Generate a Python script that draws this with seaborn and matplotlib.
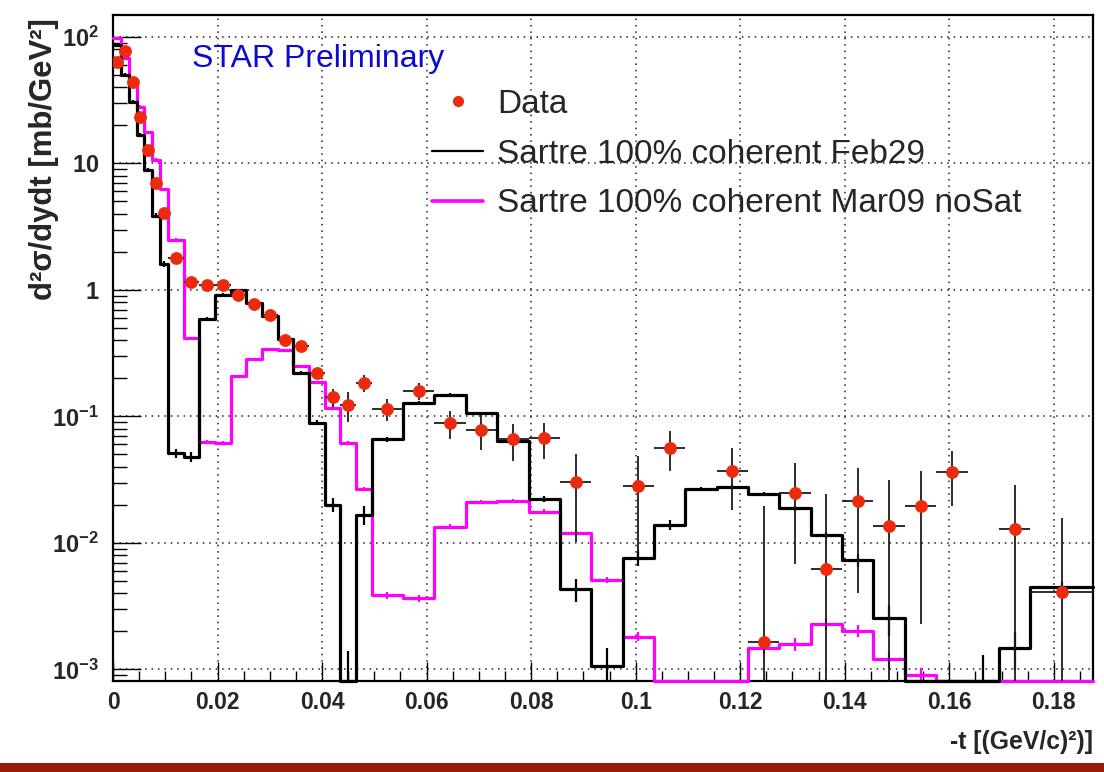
import numpy as np
import pandas as pd
import matplotlib
matplotlib.use("Agg")
import matplotlib.pyplot as plt
import seaborn as sns
from matplotlib.lines import Line2D
from matplotlib.patches import Rectangle
from matplotlib.ticker import MultipleLocator, LogLocator, FuncFormatter, NullFormatter

# ---- binning in -t [(GeV/c)^2] ----
t_edges = [0.0, 0.0015, 0.003, 0.0045, 0.006, 0.0075, 0.009, 0.0105,
           0.0135, 0.0165, 0.0195, 0.0225, 0.0255, 0.0285, 0.0315, 0.0345,
           0.0375, 0.0405, 0.0435, 0.0465, 0.0495,
           0.0555, 0.0615, 0.0675, 0.0735, 0.0795, 0.0855, 0.0915, 0.0975,
           0.1035, 0.1095, 0.1155, 0.1215, 0.1275, 0.1335, 0.1395, 0.1455,
           0.1515, 0.1575, 0.1635, 0.1695, 0.1755,
           0.1875]

nan = np.nan

# measured d2sigma/dydt [mb/GeV^2] per bin (nan = no point)
data_xs = [63.8, 78.0, 44.3, 23.4, 12.8, 7.05, 4.08,
           1.78, 1.16, 1.09, 1.10, 0.91, 0.77, 0.63, 0.40, 0.363, 0.22,
           0.142, 0.123, 0.185,
           0.115, 0.160, 0.0883, 0.078, 0.066, 0.067, 0.0305, nan, 0.0284,
           0.0566, nan, 0.0373, 0.00164, 0.025, 0.0062, 0.0216, 0.0136,
           0.0196, 0.0362, nan, 0.0128,
           0.0041]
data_err = [2.0, 3.0, 1.6, 0.9, 0.5, 0.3, 0.17,
            0.07, 0.05, 0.045, 0.045, 0.04, 0.035, 0.03, 0.025, 0.022, 0.018,
            0.024, 0.032, 0.029,
            0.023, 0.0245, 0.0215, 0.0238, 0.0214, 0.021, 0.0203, nan, 0.020,
            0.0196, nan, 0.0191, 0.018, 0.0182, 0.0182, 0.0176, 0.0179,
            0.0173, 0.0167, nan, 0.0159,
            0.0117]

# Sartre 100% coherent, Feb29 production
feb29 = [86.0, 50.0, 30.5, 16.8, 8.9, 3.87, 1.60,
         0.0512, 0.048, 0.586, 0.912, 1.0, 0.785, 0.622, 0.407, 0.222, 0.0893,
         0.020, 0.0, 0.01665,
         0.066, 0.128, 0.148, 0.106, 0.0644, 0.0223, 0.0043, 0.00107, 0.00766,
         0.01387, 0.0266, 0.0275, 0.0244, 0.0188, 0.01156, 0.00734, 0.00254,
         0.0, 0.0, 0.0, 0.00149,
         0.0045]
feb29_err = [2.0, 1.5, 1.0, 0.6, 0.35, 0.18, 0.08,
             0.004, 0.004, 0.02, 0.025, 0.025, 0.02, 0.016, 0.012, 0.008, 0.004,
             0.0025, 0.0014, 0.0028,
             0.003, 0.004, 0.004, 0.003, 0.002, 0.0012, 0.0009, 0.0004, 0.0011,
             0.0012, 0.0011, 0.001, 0.001, 0.0009, 0.0007, 0.0009, 0.0007,
             0.0, 0.0, 0.0013, 0.0005,
             0.0004]

# Sartre 100% coherent, Mar09 production without saturation
mar09 = [98.7, 67.9, 41.8, 28.1, 17.8, 10.7, 6.29,
         2.50, 0.415, 0.0632, 0.0618, 0.209, 0.285, 0.342, 0.336, 0.251, 0.188,
         0.117, 0.0618, 0.0267,
         0.00388, 0.00366, 0.01345, 0.0212, 0.0215, 0.0177, 0.0119, 0.0051,
         0.00182, 0.0, 0.0, 0.0, 0.00147, 0.00159, 0.00229, 0.00203, 0.00121,
         0.00091, 0.0, 0.0, 0.0,
         0.0]
mar09_err = [2.0, 1.5, 1.0, 0.6, 0.4, 0.25, 0.12,
             0.05, 0.008, 0.002, 0.002, 0.005, 0.006, 0.007, 0.007, 0.005, 0.004,
             0.003, 0.002, 0.001,
             0.00025, 0.00025, 0.0006, 0.0008, 0.0008, 0.0007, 0.0005, 0.0003,
             0.00015, 0.0, 0.0, 0.0, 0.00015, 0.00018, 0.00025, 0.00022, 0.00018,
             0.00012, 0.0, 0.0, 0.0,
             0.0]

x_ticks = [0.0, 0.02, 0.04, 0.06, 0.08, 0.10, 0.12, 0.14, 0.16, 0.18]
legend_labels = ["Data", "Sartre 100% coherent Feb29",
                 "Sartre 100% coherent Mar09 noSat"]

# ---- style ----
sns.set_theme(style="ticks")
FAMILY = "Liberation Sans"
plt.rcParams["font.family"] = [FAMILY, "DejaVu Sans"]
plt.rcParams["mathtext.fontset"] = "custom"
plt.rcParams["mathtext.rm"] = FAMILY
plt.rcParams["mathtext.bf"] = FAMILY + ":bold"
plt.rcParams["mathtext.it"] = FAMILY + ":italic"

RED = "#ec2a0e"
MAGENTA = "#ff00ff"
Y_MIN, Y_MAX = 8.1e-4, 149

edges = np.asarray(t_edges)
centers = 0.5 * (edges[:-1] + edges[1:])
half_w = 0.5 * np.diff(edges)

df = pd.DataFrame({"t": centers, "hw": half_w,
                   "data": data_xs, "data_err": data_err,
                   "feb29": feb29, "feb29_err": feb29_err,
                   "mar09": mar09, "mar09_err": mar09_err})
# empty bins are drawn along the bottom of the frame
for col in ("feb29", "mar09"):
    df[col + "_draw"] = df[col].clip(lower=Y_MIN)

W, H = 1104, 772
fig = plt.figure(figsize=(W / 100, H / 100), dpi=100)
fig.patch.set_facecolor("white")
ax = fig.add_axes([113 / W, 1 - 681 / H, 980 / W, 666 / H])
ax.set_yscale("log")

# model histograms
for col, colr in (("mar09", MAGENTA), ("feb29", "black")):
    sns.histplot(data=df, x="t", weights=col + "_draw", bins=t_edges,
                 element="step", fill=False, color=colr, linewidth=2.3,
                 ax=ax, zorder=3, clip_on=False)
    sub = df[df[col + "_err"] > 0]
    ax.errorbar(sub["t"], sub[col], yerr=sub[col + "_err"], fmt="none",
                ecolor=colr, elinewidth=1.6, zorder=3)

# data points
pts = df.dropna(subset=["data"])
ax.errorbar(pts["t"], pts["data"], xerr=pts["hw"], yerr=pts["data_err"],
            fmt="none", ecolor="#1c1c1c", elinewidth=1.3, zorder=4)
sns.scatterplot(data=pts, x="t", y="data", color=RED, s=85, linewidth=0,
                ax=ax, zorder=5, legend=False)

# axes
ax.set_xlim(0, 0.1875)
ax.set_ylim(Y_MIN, Y_MAX)
ax.xaxis.set_minor_locator(MultipleLocator(0.005))
ax.set_xticks(x_ticks)
ax.xaxis.set_major_formatter(FuncFormatter(lambda v, p: "%g" % round(v, 3)))
ax.yaxis.set_major_locator(LogLocator(base=10, numticks=12))
ax.yaxis.set_minor_locator(LogLocator(base=10, subs=np.arange(2, 10), numticks=12))
ax.yaxis.set_minor_formatter(NullFormatter())


def ylab(v, pos):
    e = int(round(np.log10(v)))
    if e == 0:
        return r"$\mathbf{1}$"
    if e == 1:
        return r"$\mathbf{10}$"
    return r"$\mathbf{10^{%d}}$" % e


ax.yaxis.set_major_formatter(FuncFormatter(ylab))

ax.grid(True, which="major", color="#202020", linestyle=(0, (1, 3.2)),
        linewidth=1.1, zorder=1)
ax.tick_params(axis="both", which="both", direction="in", top=False,
               right=False, color="black", width=1.0)
ax.tick_params(axis="x", which="major", length=14, pad=7, labelsize=16.5)
ax.tick_params(axis="x", which="minor", length=7)
ax.tick_params(axis="y", which="major", length=20, pad=10, labelsize=17)
ax.tick_params(axis="y", which="minor", length=10)
for lab in ax.get_xticklabels() + ax.get_yticklabels():
    lab.set_fontweight("bold")
for s in ax.spines.values():
    s.set_color("black")
    s.set_linewidth(1.6)

ax.set_xlabel("-t [(GeV/c)\u00b2)]", fontsize=17.8, fontweight="bold",
              loc="right")
ax.xaxis.set_label_coords(1.0, -0.073)
ax.set_ylabel("d\u00b2\u03c3/dydt [mb/GeV\u00b2]", fontsize=22.4,
              fontweight="bold", loc="top")
ax.yaxis.set_label_coords(-0.055, 0.996)

# legend
handles = [Line2D([], [], marker="o", linestyle="none", color=RED,
                  markersize=7),
           Line2D([], [], color="black", linewidth=1.6),
           Line2D([], [], color=MAGENTA, linewidth=2.6)]
ax.legend(handles, legend_labels, loc="upper left", frameon=False,
          bbox_to_anchor=(432 / W, 1 - 89 / H), bbox_transform=fig.transFigure,
          borderpad=0, borderaxespad=0, handlelength=1.53, handletextpad=0.42,
          labelspacing=0.56, fontsize=24)

fig.text(192 / W, 1 - 59 / H, "STAR Preliminary", color="#0a0ad2",
         fontsize=23, ha="left", va="center")

# bottom banner
fig.add_artist(Rectangle((0, 0), 1, 9 / H, transform=fig.transFigure,
                         facecolor="#9b1b0b", edgecolor="none"))

fig.savefig("out.png", dpi=100)
